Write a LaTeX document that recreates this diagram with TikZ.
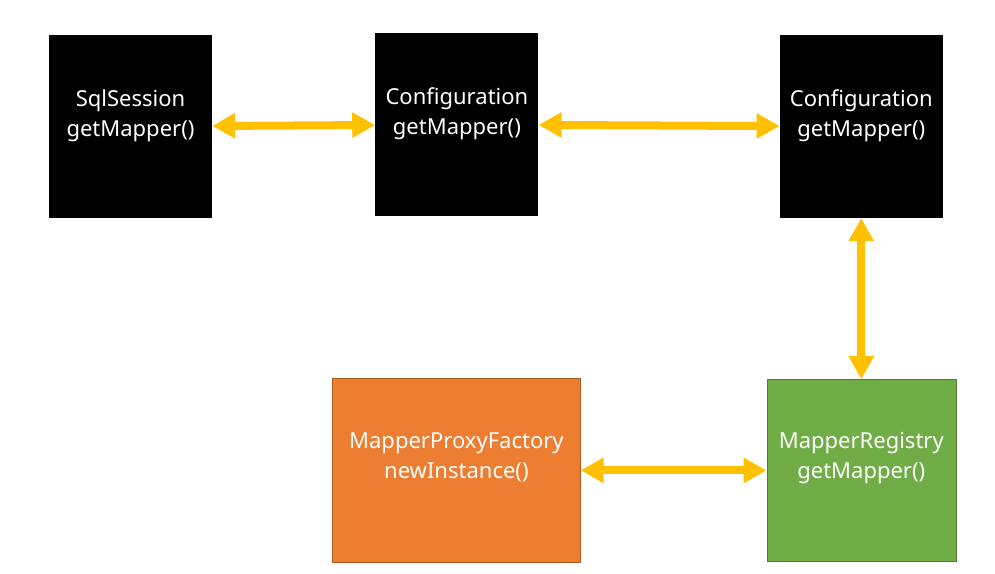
\documentclass[tikz,border=0pt]{standalone}
\usepackage{fontspec}
\setmainfont{Noto Sans}
\usetikzlibrary{positioning,arrows.meta}
\definecolor{linkyellow}{HTML}{FFC000}
\definecolor{factoryorange}{HTML}{ED7D31}
\definecolor{factoryedge}{HTML}{AE5A21}
\definecolor{registrygreen}{HTML}{70AD47}
\definecolor{registryedge}{HTML}{507E32}

\begin{document}
\begin{tikzpicture}[x=1pt,y=-1pt]
\tikzstyle{main}=[rectangle, fill=black, inner sep=0pt, minimum width=163pt, minimum height=183pt]
\tikzstyle{txt}=[align=center, text=white, font=\fontsize{22}{30}\selectfont]
\tikzstyle{connect}=[{Triangle[length=23pt,width=24pt]}-{Triangle[length=23pt,width=24pt]}, line width=8pt, draw=linkyellow]
  \useasboundingbox (0,0) rectangle (995,573);
  \node[main] (sqlsession) at (130.5,126.5) {};
  \node[main] (config) [right=163pt of sqlsession, yshift=2pt] {};
  \node[main] (configb) [right=241pt of config, yshift=-2pt] {};
  \node[main, fill=registrygreen, draw=registryedge, minimum width=189pt, minimum height=182pt] (registry) [below=161pt of configb] {};
  \node[main, fill=factoryorange, draw=factoryedge, minimum width=248pt, minimum height=184pt] (factory) [left=186pt of registry] {};
  \node[txt] (sqlsessiontext) at ([yshift=11pt]sqlsession.center) {SqlSession\\getMapper()};
  \node[txt] (configtext) at ([yshift=11pt]config.center) {Configuration\\getMapper()};
  \node[txt] (configbtext) at ([yshift=11pt]configb.center) {Configuration\\getMapper()};
  \node[txt] (registrytext) at ([yshift=12pt]registry.center) {MapperRegistry\\getMapper()};
  \node[txt] (factorytext) at ([yshift=13pt]factory.center) {MapperProxyFactory\\newInstance()};
  \path (sqlsession) edge [connect] (config)
        (config) edge [connect] (configb)
        (configb) edge [connect] (registry)
        (factory) edge [connect] (registry);
\end{tikzpicture}
\end{document}
